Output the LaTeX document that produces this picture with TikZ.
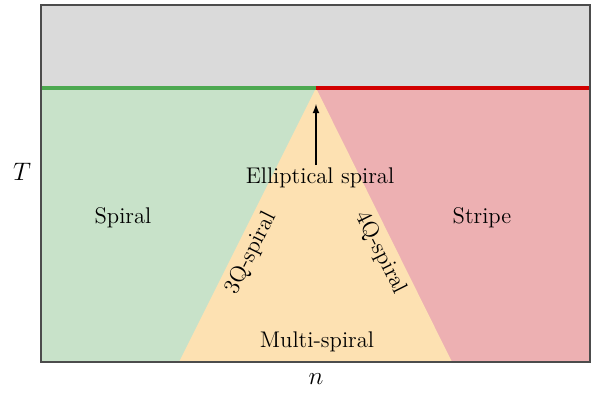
\documentclass[tikz,border=0pt]{standalone}
\usepackage{amsmath,amssymb,tikz,xcolor}
\definecolor{grayzone}{RGB}{218,218,218}
\definecolor{greenzone}{RGB}{200,226,201}
\definecolor{redzone}{RGB}{237,176,178}
\definecolor{orangezone}{RGB}{253,225,178}
\definecolor{greenline}{RGB}{76,168,80}
\definecolor{redline}{RGB}{210,0,0}
\begin{document}
\begin{tikzpicture}[x=0.02cm,y=-0.02cm,font=\fontsize{12.9pt}{15pt}\selectfont]
\useasboundingbox (0,0) rectangle (593,393);
\fill[grayzone] (41,5) rectangle (590,88);
\fill[greenzone] (41,88) rectangle (316,362);
\fill[redzone] (316,88) rectangle (590,362);
\fill[orangezone] (179,362)--(316,88)--(452,362)--cycle;
\draw[greenline,line width=2.3pt] (41,88)--(316,88);
\draw[redline,line width=2.3pt] (316,88)--(590,88);
\draw[thick,black!70] (41,5) rectangle (590,362);
\coordinate (apex) at (316,104);
\node (spiral) at (123,218) {Spiral};
\node (stripe) at (482,218) {Stripe};
\node (ell) at (320,178) {Elliptical spiral};
\node (multi) at (317,342) {Multi-spiral};
\node[rotate=63.4] (q3) at (251,253) {3Q-spiral};
\node[rotate=-63.4] (q4) at (381,253) {4Q-spiral};
\draw[thick,-latex] ([yshift=-2pt]ell.north -| apex) -- (apex);
\node[font=\fontsize{15pt}{17pt}\selectfont] (tlab) at (22,172) {$T$};
\node[font=\fontsize{15pt}{17pt}\selectfont] (nlab) at (316,379) {$n$};
\end{tikzpicture}
\end{document}
